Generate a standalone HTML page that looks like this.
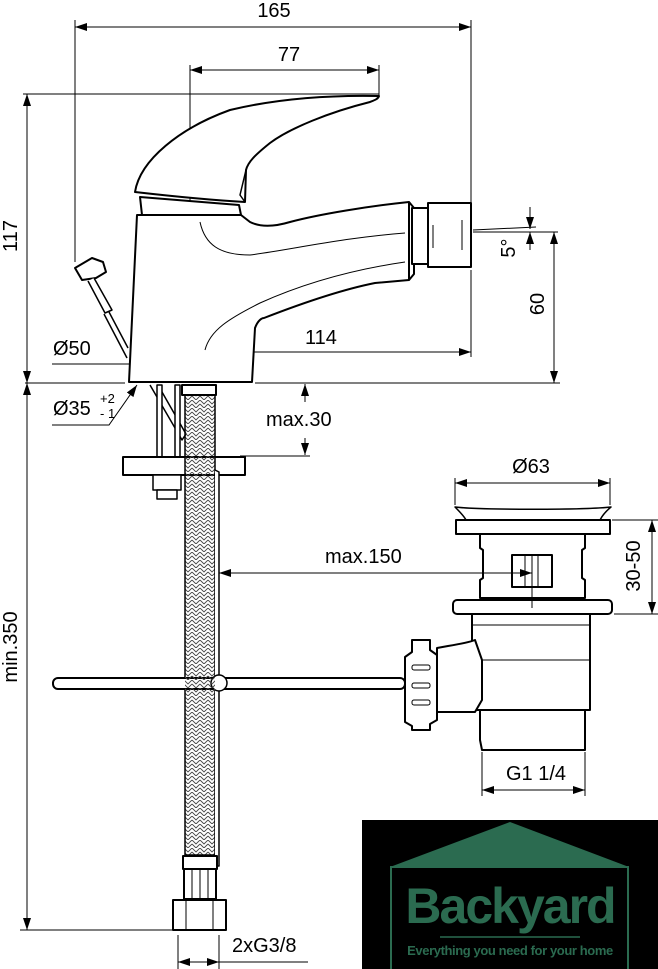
<!DOCTYPE html>
<html><head><meta charset="utf-8"><style>
html,body{margin:0;padding:0;background:#fff;}
svg{display:block;}
text{font-family:"Liberation Sans",sans-serif;fill:#000;}
</style></head><body>
<svg width="658" height="969" viewBox="0 0 658 969" xmlns="http://www.w3.org/2000/svg">
<defs>
<marker id="a" viewBox="0 0 12 8" refX="12" refY="4" markerWidth="12" markerHeight="8" markerUnits="userSpaceOnUse" orient="auto-start-reverse"><path d="M0,0 L12,4 L0,8 Z" fill="#000"/></marker>
<pattern id="br" width="8" height="8" patternUnits="userSpaceOnUse"><path d="M0,0 L4,4 L8,0 M0,4 L4,8 L8,4" stroke="#444" stroke-width="0.9" fill="none"/></pattern>
</defs>
<g stroke="#000" stroke-width="1" fill="none">
<line x1="75" y1="27" x2="471" y2="27" marker-start="url(#a)" marker-end="url(#a)"/>
<line x1="75" y1="20" x2="75" y2="262"/>
<line x1="471" y1="20" x2="471" y2="232"/>
<line x1="471" y1="270" x2="471" y2="357"/>
<line x1="190" y1="70" x2="379" y2="70" marker-start="url(#a)" marker-end="url(#a)"/>
<line x1="190" y1="65" x2="190" y2="383"/>
<line x1="379" y1="65" x2="379" y2="95"/>
<line x1="23" y1="94" x2="379" y2="94"/>
<line x1="27" y1="94" x2="27" y2="383" marker-start="url(#a)" marker-end="url(#a)"/>
<line x1="25" y1="383" x2="125" y2="383"/>
<line x1="255" y1="383" x2="560" y2="383"/>
<line x1="473" y1="232" x2="558" y2="232"/>
<line x1="554" y1="232" x2="554" y2="383" marker-start="url(#a)" marker-end="url(#a)"/>
<line x1="473" y1="230" x2="536" y2="227"/>
<line x1="530" y1="207" x2="530" y2="229" marker-end="url(#a)"/>
<line x1="530" y1="250" x2="530" y2="232" marker-end="url(#a)"/>
<line x1="190" y1="352" x2="471" y2="352" marker-start="url(#a)" marker-end="url(#a)"/>
<line x1="52" y1="364" x2="129" y2="364"/>
<line x1="129" y1="364" x2="252" y2="364" marker-start="url(#a)" marker-end="url(#a)"/>
<polyline points="52,425 109,425 137,385" marker-end="url(#a)"/>
<line x1="305" y1="402" x2="305" y2="384" marker-end="url(#a)"/>
<line x1="305" y1="438" x2="305" y2="455" marker-end="url(#a)"/>
<line x1="240" y1="456" x2="310" y2="456"/>
</g>
<g stroke="#000" stroke-width="2" fill="#fff" stroke-linejoin="round">
<path d="M135,192 C140,160 180,128 230,110 C280,98 330,95 379,96 C378,99 375,100 370,102 C330,112 290,128 270,143 C255,155 248,162 246,170 L245,202 C210,200 170,196 135,192 Z"/>
<path d="M246,170 L240,195 L245,202" fill="none" stroke-width="1.5"/>
<path d="M140,197 L142,215 L241,215 L239,205 Z"/>
<path d="M137,215 L129,382 L252,382 L255,328 C258,320 262,318 264,318 C300,304 340,290 375,283 L409,280 L409,202 C370,206 320,214 290,222 C270,228 258,226 250,222 L241,215 Z"/>
<path d="M409,202 L414,208 L414,274 L409,280" fill="none"/>
<path d="M200,222 C205,245 220,255 250,255 C290,250 340,238 405,233" fill="none" stroke-width="1"/>
<path d="M205,350 C210,330 230,318 260,303 C300,285 350,270 405,262" fill="none" stroke-width="1"/>
<rect x="412" y="208" width="16" height="56"/>
<rect x="428" y="203" width="43" height="64"/>
<line x1="433" y1="225" x2="433" y2="248" stroke-width="1"/>
<line x1="462" y1="220" x2="462" y2="250" stroke-width="1"/>
<path d="M75,268 L92,258 L103,262 L106,272 L96,278 L82,280 Z"/>
<path d="M94,278 L112,310 L105,313 L88,281" stroke-width="1.5"/>
<line x1="109" y1="312" x2="128" y2="348" stroke-width="1.5"/>
<line x1="104" y1="314" x2="127" y2="358" stroke-width="1.5"/>
<path d="M150,385 L182,440 L186,434 L158,385" stroke-width="1.5"/>
<rect x="157" y="385" width="5" height="72" stroke-width="1.5"/>
<rect x="175" y="385" width="5" height="72" stroke-width="1.5"/>
<rect x="123" y="457" width="122" height="18"/>
<rect x="153" y="475" width="28" height="15" stroke-width="1.5"/>
<rect x="157" y="490" width="20" height="9" stroke-width="1.5"/>
<rect x="185" y="395" width="30" height="460" fill="url(#br)" stroke-width="1.5"/>
<rect x="182" y="385" width="34" height="10"/>
<path d="M215,470 L219,472 L219,866 L215,866" stroke-width="1.5"/>
<rect x="53" y="678" width="352" height="11" rx="5"/>
<circle cx="219" cy="683" r="8" stroke-width="1.5"/>
<rect x="185" y="676" width="30" height="14" fill="url(#br)" stroke="none"/>
<rect x="183" y="856" width="34" height="13"/>
<rect x="184" y="869" width="32" height="30"/>
<line x1="192" y1="869" x2="192" y2="899" stroke-width="1"/>
<line x1="200" y1="869" x2="200" y2="899" stroke-width="1"/>
<line x1="208" y1="869" x2="208" y2="899" stroke-width="1"/>
<rect x="173" y="900" width="53" height="30"/>
<line x1="186" y1="900" x2="186" y2="930" stroke-width="1"/>
<line x1="213" y1="900" x2="213" y2="930" stroke-width="1"/>
<path d="M455,507 C480,510 585,510 611,507 C605,512 602,516 600,520 L466,520 C464,516 460,512 455,507 Z" stroke-width="1.5"/>
<rect x="456" y="520" width="154" height="14"/>
<path d="M480,534 L585,534 L585,548 L582,550 L582,578 L585,580 L585,598 L480,598 L480,580 L483,578 L483,550 L480,548 Z"/>
<rect x="512" y="555" width="40" height="32"/>
<line x1="525" y1="555" x2="525" y2="587" stroke-width="1"/>
<line x1="538" y1="555" x2="538" y2="587" stroke-width="1"/>
<rect x="453" y="600" width="159" height="14" rx="4"/>
<path d="M472,614 L590,614 L590,710 L472,710 Z"/>
<line x1="472" y1="625" x2="590" y2="625" stroke-width="1"/>
<line x1="472" y1="660" x2="590" y2="660" stroke-width="1"/>
<path d="M480,710 L585,710 L585,750 L482,750 L480,740 Z"/>
<path d="M437,712 L437,648 L448,646 C460,644 470,642 475,640 L482,660 L482,700 L475,712 Z"/>
<path d="M405,657 L412,652 L412,640 L430,640 L430,650 L437,655 L437,720 L430,724 L430,730 L412,730 L412,726 L405,722 Z"/>
<rect x="412" y="665" width="18" height="5" rx="2" stroke-width="1"/>
<rect x="412" y="683" width="18" height="5" rx="2" stroke-width="1"/>
<rect x="412" y="700" width="18" height="5" rx="2" stroke-width="1"/>
</g>
<g stroke="#000" stroke-width="1" fill="none">
<line x1="27" y1="383" x2="27" y2="930" marker-start="url(#a)" marker-end="url(#a)"/>
<line x1="20" y1="930" x2="175" y2="930"/>
<line x1="178" y1="935" x2="178" y2="969"/>
<line x1="219" y1="935" x2="219" y2="969"/>
<line x1="198" y1="962" x2="178" y2="962" marker-end="url(#a)"/>
<line x1="198" y1="962" x2="219" y2="962" marker-end="url(#a)"/>
<line x1="219" y1="962" x2="308" y2="962"/>
<line x1="219" y1="573" x2="532" y2="573" marker-start="url(#a)" marker-end="url(#a)"/>
<line x1="532" y1="555" x2="532" y2="608"/>
<line x1="455" y1="478" x2="455" y2="505"/>
<line x1="610" y1="478" x2="610" y2="505"/>
<line x1="455" y1="483" x2="610" y2="483" marker-start="url(#a)" marker-end="url(#a)"/>
<line x1="612" y1="520" x2="658" y2="520"/>
<line x1="614" y1="614" x2="658" y2="614"/>
<line x1="652" y1="520" x2="652" y2="614" marker-start="url(#a)" marker-end="url(#a)"/>
<line x1="482" y1="752" x2="482" y2="796"/>
<line x1="585" y1="752" x2="585" y2="796"/>
<line x1="482" y1="790" x2="585" y2="790" marker-start="url(#a)" marker-end="url(#a)"/>
</g>
<g font-size="20">
<text x="274" y="17" text-anchor="middle">165</text>
<text x="289" y="61" text-anchor="middle">77</text>
<text x="321" y="344" text-anchor="middle">114</text>
<text x="53" y="355">Ø50</text>
<text x="53" y="415">Ø35</text>
<text x="100" y="403" font-size="13">+2</text>
<text x="100" y="418" font-size="13">- 1</text>
<text x="266" y="426">max.30</text>
<text x="325" y="563">max.150</text>
<text x="531" y="473" text-anchor="middle">Ø63</text>
<text x="536" y="780" text-anchor="middle">G1 1/4</text>
<text x="232" y="952">2xG3/8</text>
<text transform="translate(17,236) rotate(-90)" text-anchor="middle">117</text>
<text transform="translate(544,304) rotate(-90)" text-anchor="middle">60</text>
<text transform="translate(515,248) rotate(-90)" text-anchor="middle">5°</text>
<text transform="translate(17,647) rotate(-90)" text-anchor="middle">min.350</text>
<text transform="translate(640,566) rotate(-90)" text-anchor="middle">30-50</text>
</g>
<rect x="362" y="820" width="296" height="149" fill="#000"/>
<path d="M390,867 L510,822 L629,867 Z" fill="#2b6b50"/>
<rect x="391" y="867" width="237" height="105" fill="none" stroke="#2b6b50" stroke-width="2"/>
<text x="510" y="923" text-anchor="middle" font-size="50" font-weight="bold" style="fill:#2b6b50;letter-spacing:-2px">Backyard</text>
<line x1="440" y1="937" x2="580" y2="937" stroke="#2b6b50" stroke-width="1.5"/>
<text x="510" y="955" text-anchor="middle" font-size="13" font-weight="bold" style="fill:#2b6b50;letter-spacing:-0.4px">Everything you need for your home</text>
</svg>
</body></html>
